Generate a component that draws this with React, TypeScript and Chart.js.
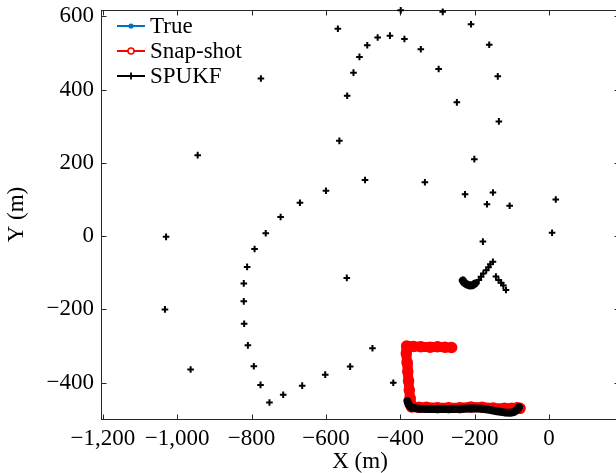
import React, { useEffect, useRef } from 'react';
import { Chart, registerables } from 'chart.js';

Chart.register(...registerables);

// ---- axes ----
const X_MIN = -1205;
const X_MAX = 188;
const Y_MIN = -499;
const Y_MAX = 617;
const X_TICKS = [-1200, -1000, -800, -600, -400, -200, 0];
const Y_TICKS = [-400, -200, 0, 200, 400, 600];

// ---- SPUKF scattered estimates (plus markers) ----
const spukfX = [
  -399, -286, -568, -210, -461, -428, -389, -489, -345, -161,
  -510, -526, -297, -138, -775, -543, -248, -135, -564, -945,
  -201, -495, -334, -600, -226, -151, 18, -670, -167, -106,
  -722, -762, 8, -1030, -792, -178, -812, -821, -544, -821,
  -1033, -820, -810, -475, -794, -535, -964, -602, -419, -776,
  -664, -715, -752,
  -151, -158, -163, -169, -177, -183, -189, -196,
  -143, -136, -129, -123, -116,
];
const spukfY = [
  616, 612, 566, 578, 542, 547, 538, 521, 510, 522,
  489, 446, 456, 436, 430, 383, 365, 313, 260, 221,
  210, 153, 147, 124, 114, 119, 100, 91, 87, 83,
  52, 8, 9, -2, -35, -15, -84, -129, -114, -178,
  -200, -239, -298, -306, -355, -356, -364, -378, -400, -406,
  -408, -433, -454,
  -70, -77, -85, -93, -102, -111, -120, -129,
  -110, -120, -127, -135, -147,
];

// ---- SPUKF converged (dense) tracks ----
const spukfTrackAX = [-381, -378, -370, -350, -320, -290, -260, -230, -200, -180, -160, -140, -120, -105, -95, -86, -81];
const spukfTrackAY = [-450, -460, -468, -471, -472, -472, -472, -471, -470, -471, -474, -478, -481, -482, -480, -474, -467];
const spukfTrackBX = [-232, -228, -221, -213, -206, -200];
const spukfTrackBY = [-121, -127, -132, -135, -134, -130];

// ---- Snap-shot estimates ----
const snapX = [-262, -280, -300, -320, -345, -365, -383, -384, -382, -380, -378, -376, -374, -372, -370, -350, -330, -300, -270, -240, -210, -180, -150, -120, -100, -86, -78];
const snapY = [-304, -303, -302, -303, -302, -301, -300, -320, -345, -370, -395, -420, -442, -458, -466, -467, -467, -468, -468, -468, -466, -467, -469, -470, -470, -468, -470];

// ---- True trajectory ----
const trueX = [-262, -382, -372, -78];
const trueY = [-303, -300, -467, -470];

const zip = (xs: number[], ys: number[]) => xs.map((x, i) => ({ x, y: ys[i] }));

const FAMILY = "'Liberation Serif', 'Times New Roman', serif";
const FONT_SIZE = 23;

const fmt = (v: number) => {
  const s = Math.abs(v).toLocaleString('en-US');
  return v < 0 ? '\u2212' + s : s;
};

const LEGEND = [
  { label: 'True', color: '#0072bd', marker: 'dot' },
  { label: 'Snap-shot', color: '#ff0000', marker: 'circle' },
  { label: 'SPUKF', color: '#000000', marker: 'plus' },
];

export default function App() {
  const ref = useRef<HTMLCanvasElement | null>(null);

  useEffect(() => {
    const canvas = ref.current;
    if (!canvas) return;

    const framePlugin = {
      id: 'frame',
      beforeDatasetsDraw(chart: any) {
        const { ctx, chartArea: a, scales } = chart;
        ctx.save();
        ctx.strokeStyle = '#262626';
        ctx.lineWidth = 1;
        const L = Math.round(a.left) + 0.5;
        const R = Math.round(a.right) + 0.5;
        const T = Math.round(a.top) + 0.5;
        const B = Math.round(a.bottom) + 0.5;
        ctx.strokeRect(L, T, R - L, B - T);
        ctx.beginPath();
        X_TICKS.forEach((v) => {
          const px = Math.round(scales.x.getPixelForValue(v)) + 0.5;
          ctx.moveTo(px, B);
          ctx.lineTo(px, B - 5);
          ctx.moveTo(px, T);
          ctx.lineTo(px, T + 5);
        });
        Y_TICKS.forEach((v) => {
          const py = Math.round(scales.y.getPixelForValue(v)) + 0.5;
          ctx.moveTo(L, py);
          ctx.lineTo(L + 5, py);
          ctx.moveTo(R, py);
          ctx.lineTo(R - 5, py);
        });
        ctx.stroke();
        ctx.restore();
      },
    };

    const legendPlugin = {
      id: 'customLegend',
      afterDraw(chart: any) {
        const { ctx, chartArea: a } = chart;
        ctx.save();
        LEGEND.forEach((e, i) => {
          const y = a.top + 16 + i * 25;
          const x0 = a.left + 16;
          const x1 = a.left + 44;
          const xm = (x0 + x1) / 2;
          ctx.strokeStyle = e.color;
          ctx.lineWidth = 2;
          ctx.beginPath();
          ctx.moveTo(x0, y);
          ctx.lineTo(x1, y);
          ctx.stroke();
          if (e.marker === 'dot') {
            ctx.fillStyle = e.color;
            ctx.beginPath();
            ctx.arc(xm, y, 2.6, 0, Math.PI * 2);
            ctx.fill();
          } else if (e.marker === 'circle') {
            ctx.fillStyle = '#ffffff';
            ctx.lineWidth = 1.6;
            ctx.beginPath();
            ctx.arc(xm, y, 3, 0, Math.PI * 2);
            ctx.fill();
            ctx.stroke();
          } else {
            ctx.lineWidth = 1.8;
            ctx.beginPath();
            ctx.moveTo(xm - 3.5, y);
            ctx.lineTo(xm + 3.5, y);
            ctx.moveTo(xm, y - 3.5);
            ctx.lineTo(xm, y + 3.5);
            ctx.stroke();
          }
          ctx.fillStyle = '#000';
          ctx.font = `${FONT_SIZE}px ${FAMILY}`;
          ctx.textBaseline = 'middle';
          ctx.textAlign = 'left';
          ctx.fillText(e.label, a.left + 49, y + 1);
        });
        ctx.restore();
      },
    };

    const chart = new Chart(canvas, {
      type: 'scatter',
      data: {
        datasets: [
          {
            label: 'SPUKF track A',
            data: zip(spukfTrackAX, spukfTrackAY),
            showLine: true,
            borderColor: '#000',
            borderWidth: 8,
            borderCapStyle: 'round',
            borderJoinStyle: 'round',
            pointRadius: 0,
            order: 0,
          },
          {
            label: 'SPUKF track B',
            data: zip(spukfTrackBX, spukfTrackBY),
            showLine: true,
            borderColor: '#000',
            borderWidth: 8,
            borderCapStyle: 'round',
            borderJoinStyle: 'round',
            pointRadius: 0,
            order: 0,
          },
          {
            label: 'SPUKF',
            data: zip(spukfX, spukfY),
            showLine: false,
            pointStyle: 'cross',
            pointRadius: 3.3,
            pointBorderWidth: 2,
            borderColor: '#000',
            pointBorderColor: '#000',
            clip: false as any,
            order: 1,
          },
          {
            label: 'Snap-shot',
            data: zip(snapX, snapY),
            showLine: true,
            borderColor: '#ff0000',
            borderWidth: 10,
            borderCapStyle: 'round',
            borderJoinStyle: 'round',
            pointStyle: 'circle',
            pointRadius: 5,
            pointBorderWidth: 1.5,
            pointBorderColor: '#ff0000',
            pointBackgroundColor: '#ff0000',
            order: 2,
          },
          {
            label: 'True',
            data: zip(trueX, trueY),
            showLine: true,
            borderColor: '#0072bd',
            borderWidth: 1.5,
            pointRadius: 1.5,
            pointBackgroundColor: '#0072bd',
            pointBorderColor: '#0072bd',
            order: 3,
          },
        ],
      },
      options: {
        animation: false,
        responsive: false,
        devicePixelRatio: 1,
        layout: { padding: { left: 0, top: 10, right: 21, bottom: 0 } },
        plugins: { legend: { display: false }, tooltip: { enabled: false } },
        font: { family: FAMILY, size: FONT_SIZE },
        scales: {
          x: {
            type: 'linear',
            position: 'bottom',
            min: X_MIN,
            max: X_MAX,
            afterBuildTicks: (s: any) => {
              s.ticks = X_TICKS.map((v) => ({ value: v }));
            },
            afterFit: (s: any) => {
              s.height = 54;
              s.paddingLeft = 0;
              s.paddingRight = 0;
              s.paddingTop = 0;
              s.paddingBottom = 0;
            },
            grid: { display: false, drawTicks: false },
            border: { display: false },
            ticks: {
              autoSkip: false,
              maxRotation: 0,
              padding: 6,
              color: '#000',
              font: { family: FAMILY, size: FONT_SIZE },
              callback: (v: any) => fmt(Number(v)),
            },
            title: {
              display: true,
              text: 'X (m)',
              color: '#000',
              font: { family: FAMILY, size: FONT_SIZE, lineHeight: 1 },
              padding: { top: 0, bottom: 0 },
            },
          },
          y: {
            type: 'linear',
            position: 'left',
            min: Y_MIN,
            max: Y_MAX,
            afterBuildTicks: (s: any) => {
              s.ticks = Y_TICKS.map((v) => ({ value: v }));
            },
            afterFit: (s: any) => {
              s.width = 101;
              s.paddingLeft = 0;
              s.paddingRight = 0;
              s.paddingTop = 0;
              s.paddingBottom = 0;
            },
            grid: { display: false, drawTicks: false },
            border: { display: false },
            ticks: {
              autoSkip: false,
              padding: 7,
              color: '#000',
              font: { family: FAMILY, size: FONT_SIZE },
              callback: (v: any) => fmt(Number(v)),
            },
            title: {
              display: true,
              text: 'Y (m)',
              color: '#000',
              font: { family: FAMILY, size: FONT_SIZE },
              padding: { top: 3, bottom: 0 },
            },
          },
        },
      } as any,
      plugins: [framePlugin, legendPlugin],
    });

    return () => chart.destroy();
  }, []);

  return (
    <div
      style={{
        position: 'fixed',
        left: 0,
        top: 0,
        width: 616,
        height: 473,
        overflow: 'hidden',
        background: '#fff',
      }}
    >
      <canvas ref={ref} width={640} height={473} style={{ display: 'block', width: 640, height: 473 }} />
    </div>
  );
}
